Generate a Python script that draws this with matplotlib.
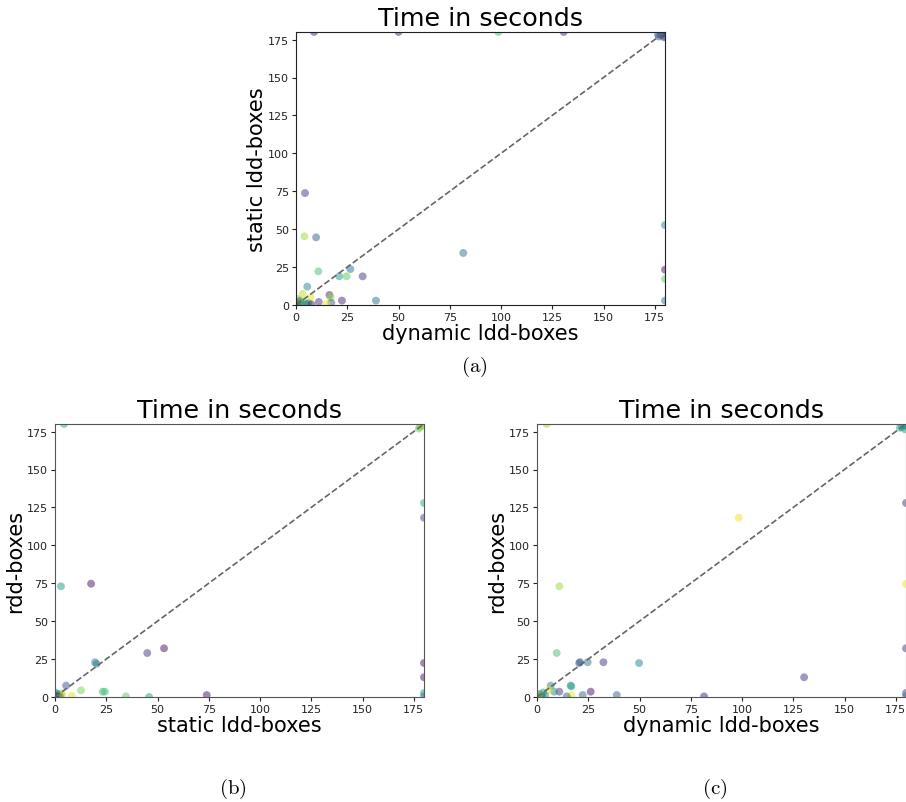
import numpy as np
import matplotlib.pyplot as plt

plt.rcParams['mathtext.fontset'] = 'cm'

# (a) dynamic ldd-boxes vs static ldd-boxes
a_x = [8.8, 50, 98.7, 130.6, 178, 179, 180, 180, 177, 176.5, 179.5, 4.4, 4.1, 9.8, 81.6, 180, 180, 180, 180,
       10.9, 5.5, 3.3, 21.1, 26.5, 24.7, 32.5, 39, 22.4, 16.3, 16.9, 11.1, 17.2, 7.2, 15,
       0.5, 1.0, 1.5, 2.0, 2.5, 3.0, 4.0, 5.0, 6.0, 7.5, 0.8, 1.8, 2.8]
a_y = [180, 180, 180, 180, 178, 179, 180, 177, 177, 178.5, 176.5, 73.8, 45.3, 44.6, 34.3, 52.7, 23.3, 17.1, 2.9,
       22.2, 12.1, 7.3, 18.9, 23.7, 18.9, 18.9, 2.9, 2.9, 6.6, 5.0, 2.0, 1.5, 5.0, 0.7,
       0.5, 1.5, 0.8, 3.0, 1.0, 0.3, 2.0, 0.6, 1.2, 0.4, 4.0, 2.5, 0.2]
a_c = [0.1, 0.1, 0.7, 0.1, 0.3, 0.15, 0.1, 0.4, 0.25, 0.35, 0.2, 0.15, 0.85, 0.3, 0.35, 0.45, 0.05, 0.75, 0.4,
       0.7, 0.45, 0.9, 0.55, 0.35, 0.75, 0.15, 0.35, 0.1, 0.1, 0.85, 0.15, 0.3, 0.95, 0.98,
       0.3, 0.5, 0.2, 0.95, 0.4, 0.6, 0.9, 0.25, 0.5, 0.1, 0.8, 0.35, 0.65]

# (b) static ldd-boxes vs rdd-boxes
b_x = [4.4, 178, 179, 180, 177.5, 179.5, 180, 180, 180, 180, 180, 180, 2.9, 17.6, 19.5, 20.3, 45, 53.2, 74,
       5.4, 12.7, 23.3, 24.4, 34.6, 45.9, 8.1, 3.0,
       0.5, 1.0, 1.5, 2.0, 2.5, 0.3, 1.2, 3.5]
b_y = [180, 178, 179, 179, 177, 180, 127.9, 118.2, 22.4, 13, 2.6, 0.5, 73, 74.7, 22.9, 21.9, 29, 32.1, 1.3,
       7.5, 4.4, 3.5, 3.5, 0.4, 0.0, 0.8, 2.5,
       0.5, 2.0, 0.8, 1.5, 0.2, 3.0, 0.3, 1.2]
b_c = [0.6, 0.85, 0.9, 0.8, 0.75, 0.88, 0.6, 0.2, 0.05, 0.05, 0.5, 0.45, 0.55, 0.05, 0.4, 0.4, 0.15, 0.05, 0.05,
       0.25, 0.8, 0.65, 0.7, 0.75, 0.55, 0.95, 0.9,
       0.4, 0.3, 0.1, 0.5, 0.2, 0.6, 0.05, 0.9]

# (c) dynamic ldd-boxes vs rdd-boxes
c_x = [4.7, 178, 179, 180, 177, 179.5, 180, 180, 180, 180, 180, 98.4, 10.9, 9.6, 20.6, 21.0, 24.7, 32.4,
       49.8, 130.3, 81.5, 38.9, 26.2, 22.3, 16.4, 16.8, 16.8, 10.9, 6.7, 8.4, 5.9, 14.5,
       0.5, 1.0, 1.5, 2.0, 2.5, 3.0, 0.3, 1.2, 4.0]
c_y = [180, 178, 179, 179, 177.5, 176.5, 127.9, 74.5, 32.1, 2.6, 0.5, 118.2, 73, 29, 22.4, 23.0, 22.9, 22.9,
       22.4, 13, 0.4, 1.3, 3.5, 1.3, 7.5, 7.0, 1.2, 3.5, 7.5, 3.5, 4.5, 0.4,
       0.5, 2.0, 0.8, 1.5, 0.2, 3.0, 0.3, 1.2, 1.0]
c_c = [0.85, 0.45, 0.4, 0.5, 0.6, 0.55, 0.15, 0.98, 0.15, 0.15, 0.45, 0.98, 0.85, 0.7, 0.25, 0.3, 0.4, 0.15,
       0.45, 0.15, 0.1, 0.3, 0.05, 0.35, 0.45, 0.6, 0.98, 0.15, 0.45, 0.45, 0.95, 0.3,
       0.4, 0.45, 0.35, 0.5, 0.3, 0.55, 0.25, 0.9, 0.45]

lim = 180
ticks = np.arange(0, 176, 25)

fig = plt.figure(figsize=(9.06, 8.03), dpi=100)
W, H = 906, 803


def panel(left, top, xs, ys, cs, xlabel, ylabel, spine):
    ax = fig.add_axes([left / W, (H - top - 273) / H, 369 / W, 273 / H])
    ax.scatter(xs, ys, c=cs, cmap='viridis', vmin=0, vmax=1, s=32, alpha=0.5,
               linewidths=0)
    ax.plot([0, lim], [0, lim], linestyle='--', color='#666666', linewidth=1.2)
    ax.set_xlim(0, lim)
    ax.set_ylim(0, lim)
    ax.set_xticks(ticks)
    ax.set_yticks(ticks)
    ax.tick_params(labelsize=8, length=3, pad=2, colors='#222222')
    for s in ax.spines.values():
        s.set_color(spine)
    ax.set_title('Time in seconds', fontsize=18.3, pad=5)
    ax.set_xlabel(xlabel, fontsize=15, labelpad=1)
    ax.set_ylabel(ylabel, fontsize=15, labelpad=1)
    return ax


panel(296, 33, a_x, a_y, a_c, 'dynamic ldd-boxes', 'static ldd-boxes', '#222222')
panel(55, 425, b_x, b_y, b_c, 'static ldd-boxes', 'rdd-boxes', '#555555')
panel(537, 425, c_x, c_y, c_c, 'dynamic ldd-boxes', 'rdd-boxes', '#555555')

fig.text(474 / W, 1 - 367 / H, r'$\mathrm{(a)}$', ha='center', va='center', fontsize=15)
fig.text(233 / W, 1 - 789 / H, r'$\mathrm{(b)}$', ha='center', va='center', fontsize=15)
fig.text(715 / W, 1 - 789 / H, r'$\mathrm{(c)}$', ha='center', va='center', fontsize=15)

fig.savefig('out.png', dpi=100)
